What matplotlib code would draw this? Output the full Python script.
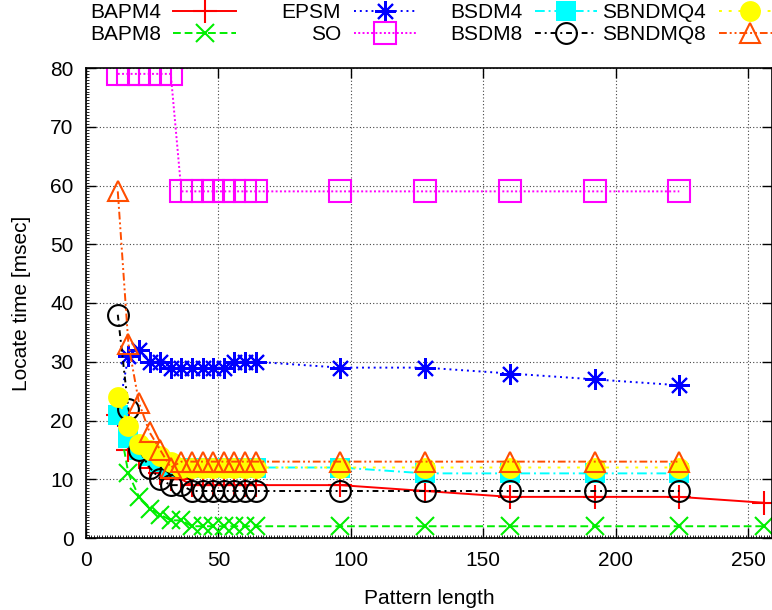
import matplotlib
matplotlib.use("Agg")
import matplotlib.pyplot as plt
from matplotlib.ticker import MultipleLocator

plt.rcParams['font.family'] = ['Liberation Sans', 'DejaVu Sans']

# pattern lengths
m_long = [12, 16, 20, 24, 28, 32, 36, 40, 44, 48, 52, 56, 60, 64, 96, 128, 160, 192, 224, 256]
m_short = [12, 16, 20, 24, 28, 32, 36, 40, 44, 48, 52, 56, 60, 64, 96, 128, 160, 192, 224]

# locate times [msec]
bapm4 = [21, 15, 14, 12, 11, 10, 10, 9, 9, 9, 9, 9, 9, 9, 9, 8, 7, 7, 7, 6]
bapm8 = [21, 11, 7, 5, 4, 3, 3, 2, 2, 2, 2, 2, 2, 2, 2, 2, 2, 2, 2, 2]
epsm = [21, 31, 32, 30, 30, 29, 29, 29, 29, 29, 29, 30, 30, 30, 29, 29, 28, 27, 26]
so = [79, 79, 79, 79, 79, 79, 59, 59, 59, 59, 59, 59, 59, 59, 59, 59, 59, 59, 59]
bsdm4 = [21, 17, 15, 14, 13, 12, 12, 12, 12, 12, 12, 12, 12, 12, 12, 11, 11, 11, 11]
bsdm8 = [38, 22, 15, 12, 10, 9, 9, 8, 8, 8, 8, 8, 8, 8, 8, 8, 8, 8, 8]
sbndmq4 = [24, 19, 16, 15, 14, 13, 12, 12, 12, 12, 12, 12, 12, 12, 12, 12, 12, 12, 12]
sbndmq8 = [59, 33, 23, 18, 15, 12, 13, 13, 13, 13, 13, 13, 13, 13, 13, 13, 13, 13, 13]

fig = plt.figure(figsize=(7.72, 6.10), dpi=100)
ax = fig.add_axes([86 / 772, 72 / 610, 1 - 86 / 772, 470 / 610])

lw = 1.4
mew = 1.5
h = []
h += ax.plot(m_long, bapm4, color='#ff0000', ls='-', lw=lw, marker='+', ms=17, mew=mew, label='BAPM4')
h += ax.plot(m_long, bapm8, color='#00ee00', ls=(0, (4, 2)), lw=lw, marker='x', ms=13, mew=mew, label='BAPM8')
h += ax.plot(m_short, epsm, color='#0000ff', ls=(0, (1, 2)), lw=lw, marker=(8, 2, 0), ms=15, mew=mew, label='EPSM')
h += ax.plot(m_short, so, color='#ff00ff', ls=(0, (1, 1.2)), lw=lw, marker='s', ms=15.5, mew=mew,
             mfc='none', label='SO')
h += ax.plot(m_short, bsdm4, color='#00ffff', ls=(0, (5, 2, 1, 2)), lw=lw, marker='s', ms=15, mew=0,
             label='BSDM4')
h += ax.plot(m_short, bsdm8, color='#000000', ls=(0, (3, 2, 1, 2)), lw=lw, marker='o', ms=15, mew=mew,
             mfc='none', label='BSDM8')
h += ax.plot(m_short, sbndmq4, color='#ffff00', ls=(0, (1.5, 3.5)), lw=lw, marker='o', ms=15, mew=0,
             label='SBNDMQ4')
h += ax.plot(m_short, sbndmq8, color='#ff4d00', ls=(0, (4, 1.5, 1, 1.5, 1, 1.5)), lw=lw, marker='^', ms=15,
             mew=mew, mfc='none', label='SBNDMQ8')

ax.set_xlim(0, 259)
ax.set_ylim(0, 80)
ax.xaxis.set_major_locator(MultipleLocator(50))
ax.yaxis.set_major_locator(MultipleLocator(10))
ax.xaxis.set_minor_locator(MultipleLocator(1))
ax.yaxis.set_minor_locator(MultipleLocator(0.5))
ax.tick_params(which='major', direction='in', length=7, width=1, labelsize=15, pad=9,
               top=True, right=True)
ax.tick_params(which='minor', direction='in', length=2, width=0.6, top=False, right=False)
ax.grid(True, which='major', color='#444444', ls=(0, (1, 2)), lw=0.8)
for s in ax.spines.values():
    s.set_linewidth(1.2)

ax.set_xlabel('Pattern length', fontsize=15, labelpad=14)
ax.set_ylabel('Locate time [msec]', fontsize=15, labelpad=14)

# key: four columns, two rows each, text to the left of the sample
col_right = [236, 416, 597, 781]
for i, xr in enumerate(col_right):
    leg = fig.legend(handles=h[2 * i:2 * i + 2], loc='upper right',
                     bbox_to_anchor=(xr / 772, 1 - 3 / 610), frameon=False, markerfirst=False,
                     fontsize=15, handlelength=3.0, handletextpad=0.6, labelspacing=0.15,
                     borderpad=0, borderaxespad=0)

fig.savefig('out.png', dpi=100)
